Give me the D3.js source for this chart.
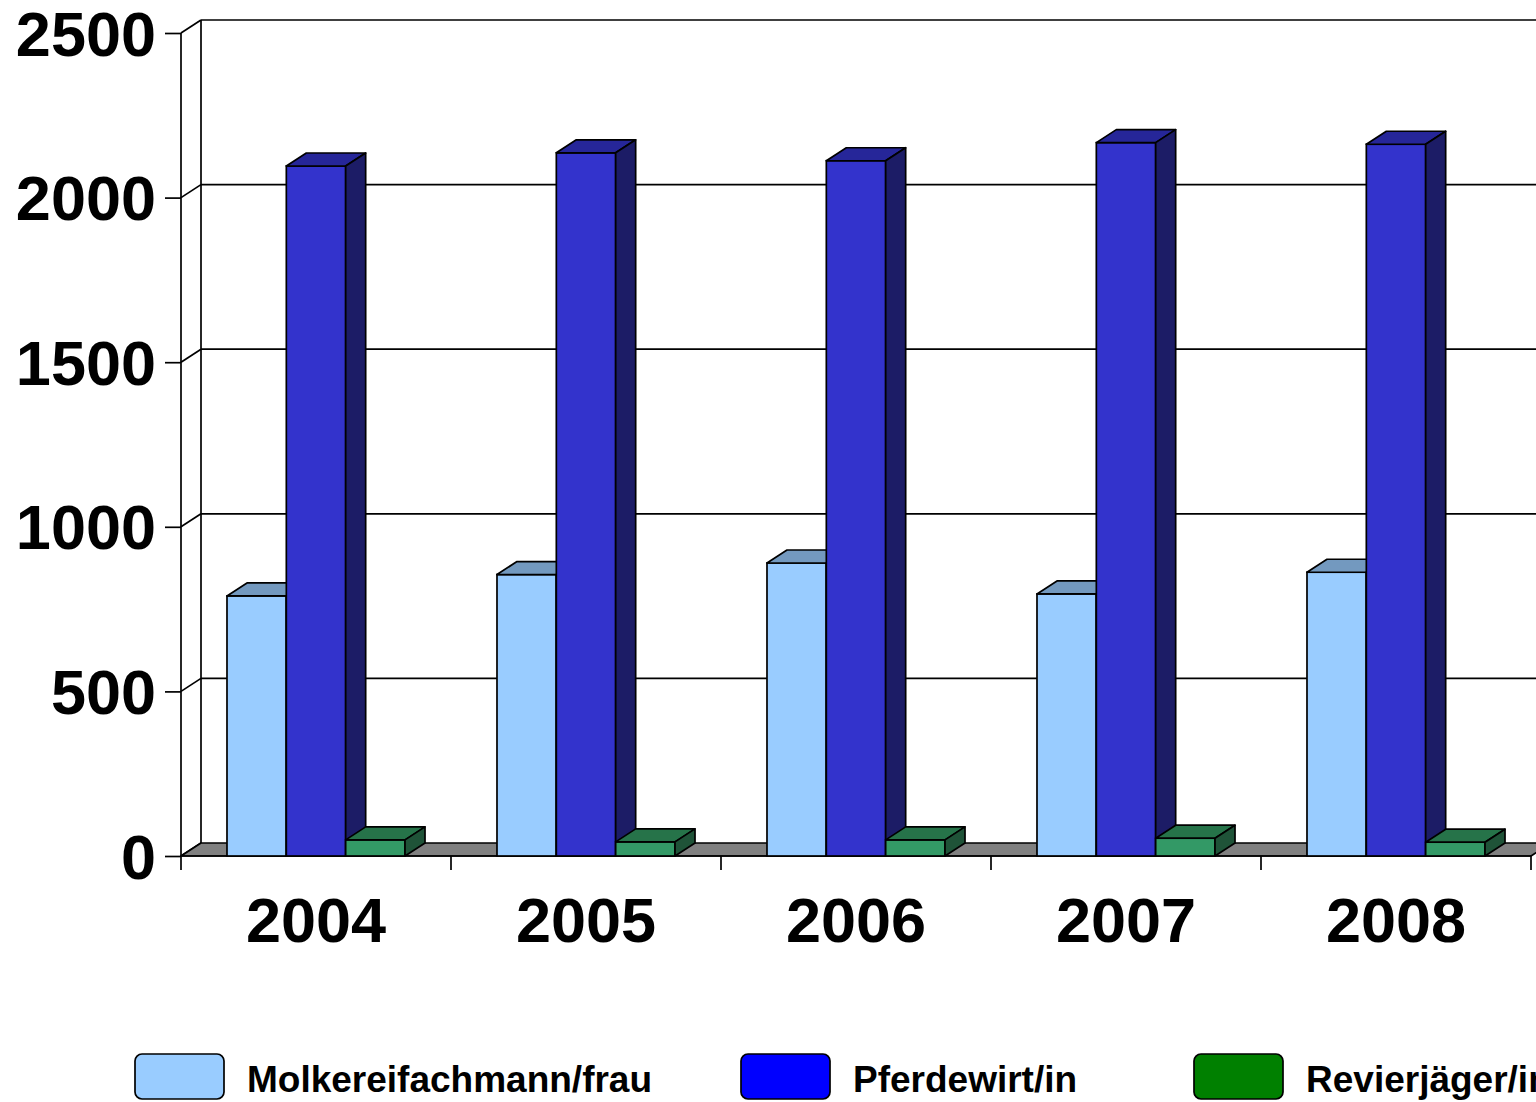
<!DOCTYPE html>
<html><head><meta charset="utf-8">
<script src="https://cdn.jsdelivr.net/npm/d3@7"></script>
<style>html,body{margin:0;padding:0;background:#fff;overflow:hidden}</style>
</head><body>
<svg id="c" width="1536" height="1102"></svg>
<script>
const years = ["2004","2005","2006","2007","2008"];
const seriesNames = ["Molkereifachmann/frau","Pferdewirt/in","Revierjäger/in"];
const molkerei = [790,855,890,796,862];
const pferdewirt = [2096,2136,2112,2167,2162];
const revierjaeger = [49,43,49,54,42];
const yTicks = [0,500,1000,1500,2000,2500];

const seriesValues = [molkerei, pferdewirt, revierjaeger];
const faceColors = [
  {front:"#99CCFF", top:"#7399BF", side:"#5C7A99", legend:"#99CCFF"},
  {front:"#3333CC", top:"#262699", side:"#1C1C66", legend:"#0000FF"},
  {front:"#339966", top:"#267349", side:"#1F5338", legend:"#008000"}
];

const svg = d3.select("#c");
const DX = 20, DY = -13;
const y = d3.scaleLinear().domain([0,2500]).range([856,33]);
const x0 = d3.scaleBand().domain(years).range([181,1531]);
const x1 = d3.scaleBand().domain(seriesNames).range([0,x0.bandwidth()]).paddingInner(0).paddingOuter(0.775);
const left = x0.range()[0], right = x0.range()[1];
const font = "'Liberation Sans', Arial, sans-serif";
const SW = 1.7;

const g = svg.append("g");
g.selectAll("line.grid").data(yTicks.filter(t=>t>0)).enter().append("line")
  .attr("x1", left+DX).attr("x2", right+DX)
  .attr("y1", d=>y(d)+DY).attr("y2", d=>y(d)+DY)
  .attr("stroke","#000").attr("stroke-width",SW);
g.selectAll("line.diag").data(yTicks).enter().append("line")
  .attr("x1", left).attr("x2", left+DX)
  .attr("y1", d=>y(d)).attr("y2", d=>y(d)+DY)
  .attr("stroke","#000").attr("stroke-width",SW);
g.append("line").attr("x1",left+DX).attr("x2",left+DX)
  .attr("y1",y(2500)+DY).attr("y2",y(0)+DY).attr("stroke","#000").attr("stroke-width",SW);
g.append("polygon")
  .attr("points",[[left,y(0)],[right,y(0)],[right+DX,y(0)+DY],[left+DX,y(0)+DY]].map(p=>p.join(",")).join(" "))
  .attr("fill","#808080").attr("stroke","#000").attr("stroke-width",SW).attr("stroke-linejoin","round");

const yAxis = d3.axisLeft(y).tickValues(yTicks).tickSize(16).tickPadding(9).tickFormat(d3.format("d"));
const ya = svg.append("g").attr("transform",`translate(${left},0)`).call(yAxis);
ya.select(".domain").attr("stroke","#000").attr("stroke-width",SW).attr("d",`M0,${y(2500)}V${y(0)}`);
ya.selectAll(".tick line").attr("stroke","#000").attr("stroke-width",SW);
ya.selectAll(".tick text").attr("font-family",font).attr("font-weight","bold")
  .attr("font-size",63).attr("fill","#000").attr("dy","0.35em");

const boundaries = years.map(d=>x0(d)).concat([right]);
svg.append("g").selectAll("line").data(boundaries).enter().append("line")
  .attr("x1",d=>d).attr("x2",d=>d).attr("y1",y(0)).attr("y2",y(0)+14)
  .attr("stroke","#000").attr("stroke-width",SW);
svg.append("line").attr("x1",left).attr("x2",right).attr("y1",y(0)).attr("y2",y(0))
  .attr("stroke","#000").attr("stroke-width",SW);
svg.append("g").selectAll("text").data(years).enter().append("text")
  .attr("x",d=>x0(d)+x0.bandwidth()/2).attr("y",942)
  .attr("text-anchor","middle").attr("font-family",font).attr("font-weight","bold")
  .attr("font-size",63).attr("fill","#000").text(d=>d);

const bars = svg.append("g");
const pts = a=>a.map(p=>p.join(",")).join(" ");
years.forEach((yr,i)=>{
  seriesNames.forEach((s,j)=>{
    const v = seriesValues[j][i];
    const x = x0(yr)+x1(s), w = x1.bandwidth();
    const yb = y(0), yt = y(v);
    const c = faceColors[j];
    const bg = bars.append("g");
    bg.append("rect").attr("x",x).attr("y",yt).attr("width",w).attr("height",yb-yt)
      .attr("fill",c.front).attr("stroke","#000").attr("stroke-width",SW);
    bg.append("polygon").attr("points",pts([[x,yt],[x+DX,yt+DY],[x+w+DX,yt+DY],[x+w,yt]]))
      .attr("fill",c.top).attr("stroke","#000").attr("stroke-width",SW).attr("stroke-linejoin","round");
    bg.append("polygon").attr("points",pts([[x+w,yt],[x+w+DX,yt+DY],[x+w+DX,yb+DY],[x+w,yb]]))
      .attr("fill",c.side).attr("stroke","#000").attr("stroke-width",SW).attr("stroke-linejoin","round");
  });
});

const legX = [135,741,1194];
const leg = svg.append("g");
seriesNames.forEach((s,j)=>{
  leg.append("rect").attr("x",legX[j]).attr("y",1054).attr("width",89).attr("height",45)
    .attr("rx",7).attr("ry",7).attr("fill",faceColors[j].legend).attr("stroke","#000").attr("stroke-width",SW);
  leg.append("text").attr("x",legX[j]+112).attr("y",1092)
    .attr("font-family",font).attr("font-weight","bold").attr("font-size",37).attr("fill","#000").text(s);
});
</script>
</body></html>
